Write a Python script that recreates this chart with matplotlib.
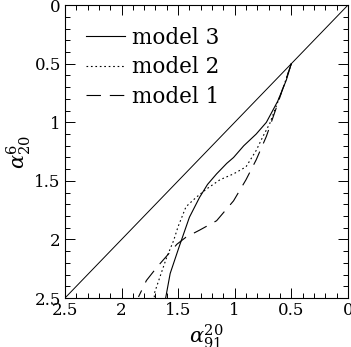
import matplotlib.pyplot as plt
from matplotlib.ticker import MultipleLocator

plt.rcParams['font.family'] = 'DejaVu Serif'
plt.rcParams['mathtext.fontset'] = 'dejavuserif'

# Curves: alpha_91^20 (x) against alpha_20^6 (y)
m3_x = [0.50, 0.544, 0.62, 0.72, 0.81, 0.92, 1.01, 1.07, 1.16, 1.24, 1.31, 1.40, 1.49, 1.57, 1.61]
m3_y = [0.50, 0.64, 0.82, 1.00, 1.10, 1.20, 1.30, 1.35, 1.44, 1.53, 1.64, 1.81, 2.06, 2.29, 2.50]

m2_x = [0.50, 0.57, 0.69, 0.75, 0.81, 0.90, 1.01, 1.13, 1.25, 1.34, 1.43, 1.50, 1.54, 1.60, 1.65, 1.71, 1.71]
m2_y = [0.50, 0.70, 1.01, 1.12, 1.24, 1.38, 1.44, 1.49, 1.57, 1.64, 1.72, 1.89, 2.01, 2.15, 2.29, 2.46, 2.50]

m1_x = [0.50, 0.63, 0.72, 0.81, 0.90, 1.01, 1.16, 1.31, 1.43, 1.51, 1.60, 1.69, 1.78, 1.85]
m1_y = [0.50, 0.87, 1.12, 1.32, 1.49, 1.67, 1.84, 1.92, 1.98, 2.04, 2.14, 2.24, 2.35, 2.49]

diag = [0.0, 2.5]

fig = plt.figure(figsize=(3.51, 3.47), dpi=100)
ax = fig.add_axes([0.185, 0.141, 0.806, 0.844])

ax.plot(diag, diag, color='black', linewidth=0.7)
ax.plot(m3_x, m3_y, color='black', linewidth=0.8, linestyle='-', label='model 3')
ax.plot(m2_x, m2_y, color='black', linewidth=0.8, linestyle=(0, (1.5, 2.5)), label='model 2')
ax.plot(m1_x, m1_y, color='black', linewidth=0.8, linestyle=(0, (13, 8)), label='model 1')

ax.set_xlim(2.5, 0)
ax.set_ylim(2.5, 0)

ax.xaxis.set_major_locator(MultipleLocator(0.5))
ax.xaxis.set_minor_locator(MultipleLocator(0.1))
ax.yaxis.set_major_locator(MultipleLocator(0.5))
ax.yaxis.set_minor_locator(MultipleLocator(0.1))
ax.xaxis.set_major_formatter(lambda v, p: f'{v:g}')
ax.yaxis.set_major_formatter(lambda v, p: f'{v:g}')
ax.tick_params(which='both', direction='in', top=True, right=True, labelsize=12, width=0.7)
ax.tick_params(which='major', length=7.2, pad=3)
ax.tick_params(which='minor', length=3.6)
for s in ax.spines.values():
    s.set_linewidth(0.8)

ax.set_xlabel(r'$\alpha_{91}^{20}$', fontsize=15, labelpad=2)
ax.set_ylabel(r'$\alpha_{20}^{6}$', fontsize=15, labelpad=1)

ax.legend(loc='upper left', frameon=False, fontsize=15.5, handlelength=1.8,
          handletextpad=0.3, labelspacing=0.35, borderaxespad=0.4,
          borderpad=0.6)

fig.savefig('out.png', dpi=100)
